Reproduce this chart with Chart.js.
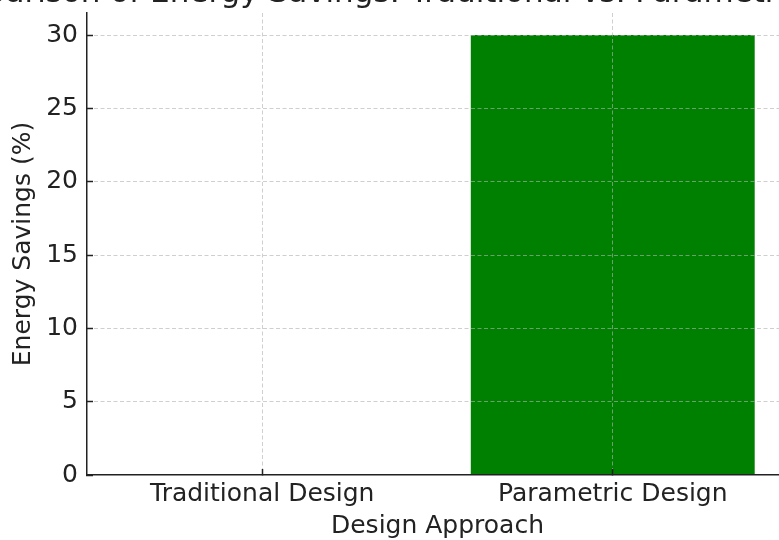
<!DOCTYPE html>
<html lang="en">
<head>
  <meta charset="UTF-8" />
  <title>Energy Savings by Design Approach</title>
  <script src="https://cdn.jsdelivr.net/npm/chart.js"></script>
  <style>
    html, body { margin: 0; padding: 0; background: #fff; overflow: hidden; }
    body { width: 779px; height: 540px; position: relative; }
    .chart-box { position: absolute; left: 0; top: 0; width: 790px; height: 540px; }
  </style>
</head>
<body>
  <div class="chart-box">
    <canvas id="savingsChart"></canvas>
  </div>

<script>
const designApproaches = ['Traditional Design', 'Parametric Design'];
const energySavings = [0, 30];
const barColors = ['blue', 'green'];
const yTicks = [0, 5, 10, 15, 20, 25, 30];
const chartTitle = 'Comparison of Energy Savings: Traditional vs. Parametric Design';

const axisColor = '#222';
const gridColor = 'rgba(178,178,178,0.62)';
const font = 'DejaVu Sans';

// title is wider than the figure, so draw it by hand (no squeezing) and let it clip
const clippedTitle = {
  id: 'clippedTitle',
  afterDraw(chart) {
    const { ctx, chartArea } = chart;
    ctx.save();
    ctx.font = '31px "' + font + '"';
    ctx.fillStyle = axisColor;
    ctx.textAlign = 'center';
    ctx.textBaseline = 'alphabetic';
    ctx.fillText(chartTitle, (chartArea.left + chartArea.right) / 2 - 20, chartArea.top - 11);
    ctx.restore();
  }
};

const gridOpts = {
  offset: false,
  z: 1,
  color: gridColor,
  lineWidth: 1,
  tickLength: -6,
  tickColor: axisColor,
  tickWidth: 1.5,
  tickBorderDash: []
};
const borderOpts = { color: axisColor, width: 1.5, dash: [4, 2.5], z: 2 };

new Chart(document.getElementById('savingsChart'), {
  type: 'bar',
  data: {
    labels: designApproaches,
    datasets: [{
      label: 'Energy Savings (%)',
      data: energySavings,
      backgroundColor: barColors,
      borderWidth: 0,
      categoryPercentage: 1,
      barPercentage: 0.81
    }]
  },
  options: {
    responsive: true,
    maintainAspectRatio: false,
    animation: false,
    devicePixelRatio: 1,
    layout: { padding: { left: 0, right: 2, top: 13, bottom: 0 } },
    plugins: {
      legend: { display: false },
      tooltip: { enabled: false },
      title: { display: false }
    },
    scales: {
      x: {
        offset: true,
        afterFit: scale => {
          scale.height = 65;
          scale.paddingLeft = 0;
          scale.paddingRight = 0;
        },
        grid: gridOpts,
        border: borderOpts,
        ticks: { color: axisColor, font: { family: font, size: 25 }, padding: 10 },
        title: {
          display: true,
          text: 'Design Approach',
          color: axisColor,
          font: { family: font, size: 25, lineHeight: 1.1 },
          padding: { top: 3.5, bottom: 0 }
        }
      },
      y: {
        min: 0,
        max: 31.5,
        afterBuildTicks: scale => { scale.ticks = yTicks.map(v => ({ value: v })); },
        afterFit: scale => {
          scale.width = 87;
          scale.paddingTop = 0;
          scale.paddingBottom = 0;
        },
        grid: {
          ...gridOpts,
          color: ctx => (ctx.tick && ctx.tick.value === 0) ? 'transparent' : gridColor
        },
        border: borderOpts,
        ticks: { color: axisColor, font: { family: font, size: 25 }, padding: 15 },
        title: {
          display: true,
          text: 'Energy Savings (%)',
          color: axisColor,
          font: { family: font, size: 25 },
          padding: { top: 8.5, bottom: 0 }
        }
      }
    }
  },
  plugins: [clippedTitle]
});
</script>
</body>
</html>
